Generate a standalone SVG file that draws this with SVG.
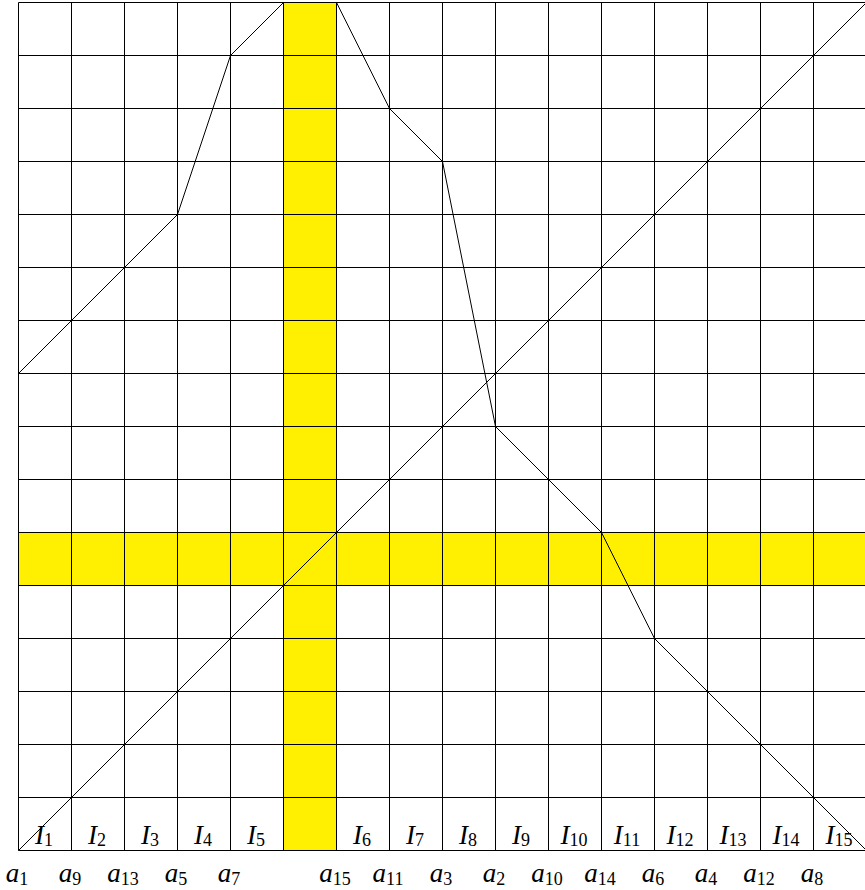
<svg xmlns="http://www.w3.org/2000/svg" width="865" height="890" viewBox="0 0 865 890">
<style>
.bg{fill:#fff}
.hl{fill:#ffef00}
.grid line{stroke:#000;stroke-width:1}
.curve{fill:none;stroke:#000;stroke-width:1}
.lab{font-family:"Liberation Serif",serif;font-style:italic;font-size:27px;fill:#000;text-anchor:middle}
.sub{font-style:normal;font-size:18px}
</style>
<rect class="bg" x="0" y="0" width="865" height="890"/>
<g id="highlights">
<rect class="hl" x="283.5" y="2.5" width="53" height="848"/>
<rect class="hl" x="18.5" y="532.5" width="848" height="53"/>
</g>
<g id="grid" class="grid">
<line x1="18.5" y1="2.5" x2="18.5" y2="850.5"/>
<line x1="71.5" y1="2.5" x2="71.5" y2="850.5"/>
<line x1="124.5" y1="2.5" x2="124.5" y2="850.5"/>
<line x1="177.5" y1="2.5" x2="177.5" y2="850.5"/>
<line x1="230.5" y1="2.5" x2="230.5" y2="850.5"/>
<line x1="283.5" y1="2.5" x2="283.5" y2="850.5"/>
<line x1="336.5" y1="2.5" x2="336.5" y2="850.5"/>
<line x1="389.5" y1="2.5" x2="389.5" y2="850.5"/>
<line x1="442.5" y1="2.5" x2="442.5" y2="850.5"/>
<line x1="495.5" y1="2.5" x2="495.5" y2="850.5"/>
<line x1="548.5" y1="2.5" x2="548.5" y2="850.5"/>
<line x1="601.5" y1="2.5" x2="601.5" y2="850.5"/>
<line x1="654.5" y1="2.5" x2="654.5" y2="850.5"/>
<line x1="707.5" y1="2.5" x2="707.5" y2="850.5"/>
<line x1="760.5" y1="2.5" x2="760.5" y2="850.5"/>
<line x1="813.5" y1="2.5" x2="813.5" y2="850.5"/>
<line x1="18.5" y1="2.5" x2="866.5" y2="2.5"/>
<line x1="18.5" y1="55.5" x2="866.5" y2="55.5"/>
<line x1="18.5" y1="108.5" x2="866.5" y2="108.5"/>
<line x1="18.5" y1="161.5" x2="866.5" y2="161.5"/>
<line x1="18.5" y1="214.5" x2="866.5" y2="214.5"/>
<line x1="18.5" y1="267.5" x2="866.5" y2="267.5"/>
<line x1="18.5" y1="320.5" x2="866.5" y2="320.5"/>
<line x1="18.5" y1="373.5" x2="866.5" y2="373.5"/>
<line x1="18.5" y1="426.5" x2="866.5" y2="426.5"/>
<line x1="18.5" y1="479.5" x2="866.5" y2="479.5"/>
<line x1="18.5" y1="532.5" x2="866.5" y2="532.5"/>
<line x1="18.5" y1="585.5" x2="866.5" y2="585.5"/>
<line x1="18.5" y1="638.5" x2="866.5" y2="638.5"/>
<line x1="18.5" y1="691.5" x2="866.5" y2="691.5"/>
<line x1="18.5" y1="744.5" x2="866.5" y2="744.5"/>
<line x1="18.5" y1="797.5" x2="866.5" y2="797.5"/>
<line x1="18.5" y1="850.5" x2="866.5" y2="850.5"/>
</g>
<g id="connectors">
<line class="curve" x1="18.5" y1="850.5" x2="866.5" y2="2.5"/>
<polyline class="curve" points="18.5,373.5 177.5,214.5 230.5,55.5 283.5,2.5 336.5,2.5 389.5,108.5 442.5,161.5 495.5,426.5 601.5,532.5 654.5,638.5 866.5,850.5"/>
</g>
<g id="interval-labels" class="lab">
<text x="44" y="844">I<tspan class="sub" dy="2">1</tspan></text>
<text x="97" y="844">I<tspan class="sub" dy="2">2</tspan></text>
<text x="150" y="844">I<tspan class="sub" dy="2">3</tspan></text>
<text x="203" y="844">I<tspan class="sub" dy="2">4</tspan></text>
<text x="256" y="844">I<tspan class="sub" dy="2">5</tspan></text>
<text x="362" y="844">I<tspan class="sub" dy="2">6</tspan></text>
<text x="415" y="844">I<tspan class="sub" dy="2">7</tspan></text>
<text x="468" y="844">I<tspan class="sub" dy="2">8</tspan></text>
<text x="521" y="844">I<tspan class="sub" dy="2">9</tspan></text>
<text x="574" y="844">I<tspan class="sub" dy="2">10</tspan></text>
<text x="627" y="844">I<tspan class="sub" dy="2">11</tspan></text>
<text x="680" y="844">I<tspan class="sub" dy="2">12</tspan></text>
<text x="733" y="844">I<tspan class="sub" dy="2">13</tspan></text>
<text x="786" y="844">I<tspan class="sub" dy="2">14</tspan></text>
<text x="839" y="844">I<tspan class="sub" dy="2">15</tspan></text>
</g>
<g id="point-labels" class="lab">
<text x="17" y="882">a<tspan class="sub" dy="3">1</tspan></text>
<text x="70" y="882">a<tspan class="sub" dy="3">9</tspan></text>
<text x="123" y="882">a<tspan class="sub" dy="3">13</tspan></text>
<text x="176" y="882">a<tspan class="sub" dy="3">5</tspan></text>
<text x="229" y="882">a<tspan class="sub" dy="3">7</tspan></text>
<text x="335" y="882">a<tspan class="sub" dy="3">15</tspan></text>
<text x="388" y="882">a<tspan class="sub" dy="3">11</tspan></text>
<text x="441" y="882">a<tspan class="sub" dy="3">3</tspan></text>
<text x="494" y="882">a<tspan class="sub" dy="3">2</tspan></text>
<text x="547" y="882">a<tspan class="sub" dy="3">10</tspan></text>
<text x="600" y="882">a<tspan class="sub" dy="3">14</tspan></text>
<text x="653" y="882">a<tspan class="sub" dy="3">6</tspan></text>
<text x="706" y="882">a<tspan class="sub" dy="3">4</tspan></text>
<text x="759" y="882">a<tspan class="sub" dy="3">12</tspan></text>
<text x="812" y="882">a<tspan class="sub" dy="3">8</tspan></text>
</g>
</svg>
